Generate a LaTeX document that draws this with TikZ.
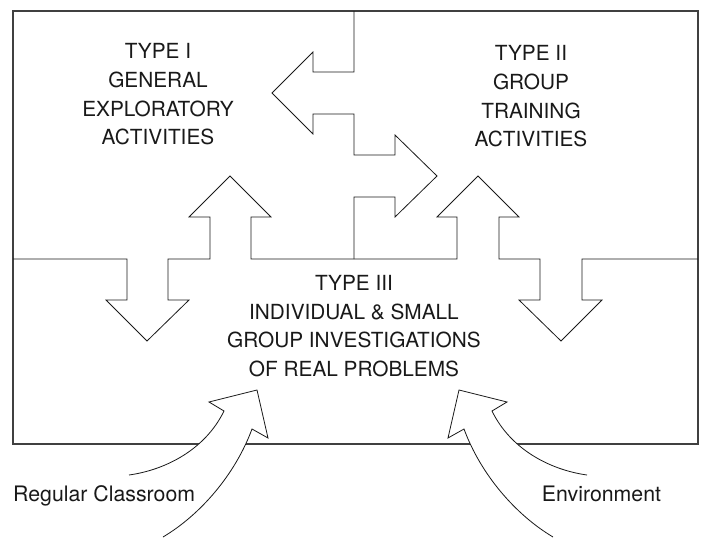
\documentclass[tikz,border=0pt]{standalone}
\usepackage{fontspec}
\setmainfont{TeX Gyre Heros}
\begin{document}
\begin{tikzpicture}[x=1pt,y=-1pt,
  frame/.style={line width=1.1pt, draw=black!75},
  divider/.style={line width=0.8pt, draw=black!90, line join=miter},
  inflow/.style={line width=0.8pt, draw=black!90, fill=white, line join=miter},
  label/.style={font=\fontsize{20.8}{28.7}\selectfont, inner sep=0pt, align=center, text=black!90},
  source/.style={font=\fontsize{21.3}{25}\selectfont, inner sep=0pt, text=black!90}]
\useasboundingbox (0,0) rectangle (702,538);

% outer frame
\draw[frame] (13,11) rectangle (698,444);

% horizontal divider with the two double-headed arrows
\draw[divider] (13,259) -- (127,259) -- (127,300) -- (106,300) -- (147,341) -- (189,300)
  -- (168,300) -- (168,259) -- (210,259) -- (210,217) -- (189,217) -- (230,176)
  -- (271,217) -- (251,217) -- (251,259) -- (457,259) -- (457,217) -- (437,217)
  -- (478,176) -- (519,217) -- (499,217) -- (499,259) -- (540,259) -- (540,300)
  -- (519,300) -- (561,341) -- (602,300) -- (582,300) -- (582,259) -- (698,259);

% vertical divider between Type I and Type II
\draw[divider] (354,11) -- (354,72) -- (313,72) -- (313,52) -- (272,93) -- (313,134)
  -- (313,114) -- (354,114) -- (354,155) -- (395,155) -- (395,135) -- (437,176)
  -- (395,217) -- (395,197) -- (354,197) -- (354,259);

% curved inflow arrows from below
\filldraw[inflow] (129,475) .. controls (165,470) and (205,450) .. (224,411)
  -- (209,402) -- (257,390) -- (268,438) -- (252,429)
  .. controls (235,475) and (200,515) .. (163,537);
\filldraw[inflow] (587,475) .. controls (551,470) and (511,450) .. (492,411)
  -- (507,402) -- (459,390) -- (448,438) -- (464,429)
  .. controls (481,475) and (516,515) .. (553,537);

% labels
\node[label, anchor=north] (typeI) at (158,43.3) {TYPE I\\GENERAL\\EXPLORATORY\\ACTIVITIES};
\node[label, anchor=north] (typeII) at (531,45.5) {TYPE II\\GROUP\\TRAINING\\ACTIVITIES};
\node[label, anchor=north] (typeIII) at (354,275) {TYPE III\\INDIVIDUAL \& SMALL\\GROUP INVESTIGATIONS\\OF REAL PROBLEMS};
\node[source, anchor=base west] (classroom) at (13,501.7) {Regular Classroom};
\node[source, anchor=base west] (environment) at (541.7,501.7) {Environment};
\end{tikzpicture}
\end{document}
